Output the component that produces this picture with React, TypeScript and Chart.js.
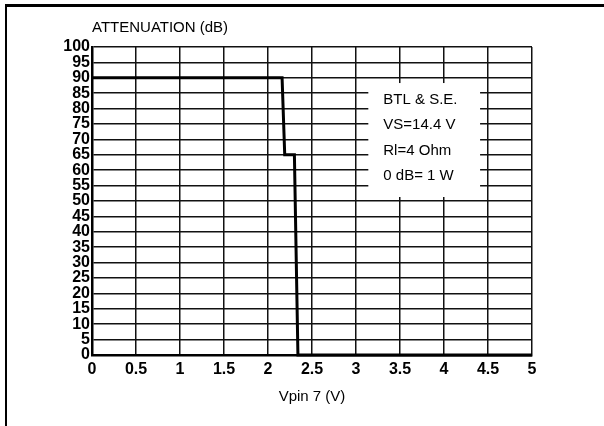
import React, { useEffect, useRef } from "react";
import { Chart, registerables } from "chart.js";

Chart.register(...registerables);

const vpin: number[] = [0, 2.16, 2.19, 2.3, 2.34, 5];
const attenuation: number[] = [90, 90, 65, 65, 0, 0];
const xTickLabels: string[] = ["0", "0.5", "1", "1.5", "2", "2.5", "3", "3.5", "4", "4.5", "5"];
const yTickLabels: string[] = ["0", "5", "10", "15", "20", "25", "30", "35", "40", "45", "50", "55", "60", "65", "70", "75", "80", "85", "90", "95", "100"];
const yTitle = "ATTENUATION (dB)";
const xTitle = "Vpin 7 (V)";
const noteLines: string[] = ["BTL & S.E.", "VS=14.4 V", "Rl=4 Ohm", "0 dB= 1 W"];

const FONT = "'Liberation Sans', Arial, Helvetica, sans-serif";

const decorPlugin = {
  id: "decor",
  beforeDatasetsDraw(chart: any) {
    const { ctx, scales } = chart;
    const x = scales.x;
    const y = scales.y;
    // annotation box
    const x0 = x.getPixelForValue(3.14);
    const x1 = x.getPixelForValue(4.41);
    const y0 = y.getPixelForValue(88.3);
    const y1 = y.getPixelForValue(51.3);
    ctx.save();
    ctx.fillStyle = "#fff";
    ctx.fillRect(x0, y0, x1 - x0, y1 - y0);
    ctx.fillStyle = "#000";
    ctx.font = `15px ${FONT}`;
    ctx.textAlign = "left";
    ctx.textBaseline = "middle";
    const lineVals = [82.8, 74.8, 66.3, 58.1];
    noteLines.forEach((t, i) => {
      ctx.fillText(t, x.getPixelForValue(3.31), y.getPixelForValue(lineVals[i]));
    });
    ctx.restore();
  },
  afterDraw(chart: any) {
    const { ctx, chartArea } = chart;
    ctx.save();
    ctx.fillStyle = "#000";
    // outer frame (top and left)
    ctx.fillRect(5, 4, 599, 3);
    ctx.fillRect(5, 4, 2, 422);
    // y title
    ctx.font = `15px ${FONT}`;
    ctx.textAlign = "left";
    ctx.textBaseline = "middle";
    ctx.fillText(yTitle, chartArea.left, 28);
    ctx.restore();
  },
};

export default function App() {
  const ref = useRef<HTMLCanvasElement | null>(null);
  useEffect(() => {
    if (!ref.current) return;
    const chart = new Chart(ref.current, {
      type: "line",
      data: {
        datasets: [
          {
            data: vpin.map((v, i) => ({ x: v, y: attenuation[i] })),
            borderColor: "#000",
            borderWidth: 3,
            pointRadius: 0,
            tension: 0,
            fill: false,
            clip: 6,
          },
        ],
      },
      options: {
        animation: false,
        responsive: false,
        devicePixelRatio: 1,
        layout: { padding: { left: 0, right: 72, top: 47, bottom: 0 } },
        plugins: { legend: { display: false }, tooltip: { enabled: false }, title: { display: false } },
        scales: {
          x: {
            type: "linear",
            min: 0,
            max: 5,
            afterFit(scale: any) {
              scale.height = 71;
            },
            afterBuildTicks(scale: any) {
              scale.ticks = xTickLabels.map((l) => ({ value: parseFloat(l) }));
            },
            ticks: {
              color: "#000",
              padding: 5,
              maxRotation: 0,
              autoSkip: false,
              font: { family: FONT, size: 16, weight: "bold" },
              callback: (_v: any, i: number) => xTickLabels[i],
            },
            grid: { color: "#111", lineWidth: 1.5, drawTicks: false },
            border: { display: true, color: "#000", width: 2.5 },
            title: {
              display: true,
              text: xTitle,
              color: "#000",
              font: { family: FONT, size: 15 },
              padding: { top: 0, bottom: 20 },
            },
          },
          y: {
            type: "linear",
            min: 0,
            max: 100,
            afterFit(scale: any) {
              scale.width = 92;
            },
            afterBuildTicks(scale: any) {
              scale.ticks = yTickLabels.map((l) => ({ value: parseFloat(l) }));
            },
            ticks: {
              color: "#000",
              padding: 2,
              autoSkip: false,
              font: { family: FONT, size: 16, weight: "bold", lineHeight: 1 },
              callback: (_v: any, i: number) => yTickLabels[i],
            },
            grid: { color: "#111", lineWidth: 1.5, drawTicks: false },
            border: { display: true, color: "#000", width: 2.5 },
          },
        },
      },
      plugins: [decorPlugin],
    } as any);
    return () => chart.destroy();
  }, []);
  return (
    <div style={{ position: "fixed", left: 0, top: 0, width: 604, height: 426, background: "#fff" }}>
      <canvas ref={ref} width={604} height={426} style={{ display: "block" }} />
    </div>
  );
}
